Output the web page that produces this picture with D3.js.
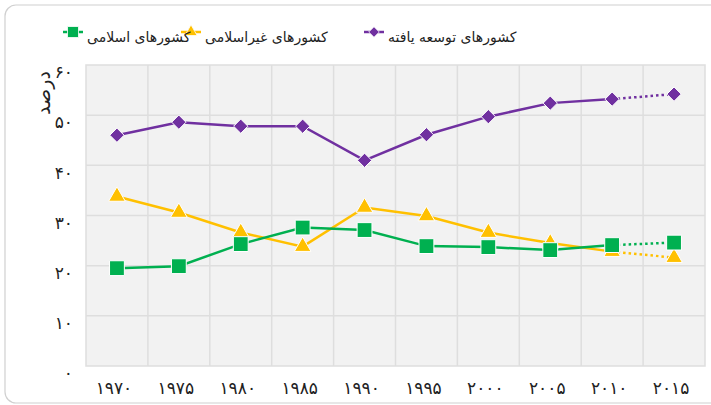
<!DOCTYPE html>
<html>
<head>
<meta charset="utf-8">
<script src="https://cdn.jsdelivr.net/npm/d3@7"></script>
<style>
  body { margin: 0; background: #fff; }
  text { font-family: "DejaVu Sans", sans-serif; }
</style>
</head>
<body>
<script>
// Data
var years = ['1970', '1975', '1980', '1985', '1990', '1995', '2000', '2005', '2010', '2015'];
var developed = [46.0, 48.6, 47.8, 47.8, 41.0, 46.1, 49.7, 52.4, 53.2, 54.2];
var nonIslamic = [33.8, 30.6, 26.6, 23.8, 31.6, 29.9, 26.6, 24.5, 22.8, 21.6];
var islamic = [19.5, 19.9, 24.3, 27.6, 27.1, 23.9, 23.7, 23.1, 24.1, 24.6];
var yTicks = [0, 10, 20, 30, 40, 50, 60];

var series = [
	{ name: 'کشورهای توسعه یافته', values: developed, color: '#7030a0', symbol: d3.symbolDiamond2, size: 130 },
	{ name: 'کشورهای غیراسلامی', values: nonIslamic, color: '#ffc000', symbol: d3.symbolTriangle, size: 120 },
	{ name: 'کشورهای اسلامی', values: islamic, color: '#00b050', symbol: d3.symbolSquare, size: 220 }
];

// Persian digits
function fa(s) {
	return String(s).replace(/[0-9]/g, function(c) { return '۰۱۲۳۴۵۶۷۸۹'[+c]; });
}

var width = 711, height = 405;
var plot = { left: 86, right: 705, top: 65, bottom: 366 };

var svg = d3.select('body').append('svg')
	.attr('width', width)
	.attr('height', height);

// outer rounded frame
svg.append('rect')
	.attr('x', 5).attr('y', 5)
	.attr('width', 730).attr('height', 398)
	.attr('rx', 11)
	.attr('fill', 'none')
	.attr('stroke', '#d0d0d0')
	.attr('stroke-width', 1.2);

// Scales
var xScale = d3.scaleBand().domain(years).range([plot.left, plot.right]);
var yScale = d3.scaleLinear().domain([0, 60]).range([plot.bottom, plot.top]);
var xc = function(i) { return xScale(years[i]) + xScale.bandwidth() / 2; };

// plot background and grid
svg.append('rect')
	.attr('x', plot.left).attr('y', plot.top)
	.attr('width', plot.right - plot.left)
	.attr('height', plot.bottom - plot.top)
	.attr('fill', '#f2f2f2')
	.attr('stroke', '#dedede')
	.attr('stroke-width', 1.5);

svg.append('g').selectAll('line')
	.data(years.slice(1))
	.enter().append('line')
		.attr('x1', function(d) { return xScale(d); })
		.attr('x2', function(d) { return xScale(d); })
		.attr('y1', plot.top).attr('y2', plot.bottom)
		.attr('stroke', '#dedede').attr('stroke-width', 1.5);

svg.append('g').selectAll('line')
	.data(yTicks.slice(1, -1))
	.enter().append('line')
		.attr('x1', plot.left).attr('x2', plot.right)
		.attr('y1', function(d) { return yScale(d); })
		.attr('y2', function(d) { return yScale(d); })
		.attr('stroke', '#dedede').attr('stroke-width', 1.5);

// Axes
var yAxis = d3.axisLeft(yScale).tickValues(yTicks).tickSize(0).tickPadding(0).tickFormat(fa);
var yg = svg.append('g')
	.attr('transform', 'translate(73,0)')
	.call(yAxis);
yg.select('.domain').remove();
yg.selectAll('text')
	.attr('dy', '0.75em')
	.attr('font-size', 17)
	.attr('letter-spacing', 2)
	.attr('fill', '#222')
	.style('font-family', '"DejaVu Sans", sans-serif');

var xAxis = d3.axisBottom(xScale).tickSize(0).tickPadding(0).tickFormat(fa);
var xg = svg.append('g')
	.attr('transform', 'translate(-3,390)')
	.call(xAxis);
xg.select('.domain').remove();
xg.selectAll('text')
	.attr('dy', '0.25em')
	.attr('font-size', 17)
	.attr('letter-spacing', 3)
	.attr('fill', '#222')
	.style('font-family', '"DejaVu Sans", sans-serif');

// y title
svg.append('text')
	.attr('transform', 'translate(50,93) rotate(-90)')
	.attr('text-anchor', 'middle')
	.attr('font-size', 19)
	.attr('fill', '#222')
	.text('درصد');

// Lines
var line = d3.line()
	.x(function(d) { return d.x; })
	.y(function(d) { return d.y; });

series.forEach(function(s) {
	var pts = s.values.map(function(v, i) { return { x: xc(i), y: yScale(v) }; });
	svg.append('path')
		.datum(pts.slice(0, 9))
		.attr('d', line)
		.attr('fill', 'none')
		.attr('stroke', s.color)
		.attr('stroke-width', 2.5);
	svg.append('path')
		.datum(pts.slice(8))
		.attr('d', line)
		.attr('fill', 'none')
		.attr('stroke', s.color)
		.attr('stroke-width', 2.5)
		.attr('stroke-dasharray', '2.5,3');
});

series.forEach(function(s) {
	svg.append('g').selectAll('path')
		.data(s.values)
		.enter().append('path')
			.attr('transform', function(d, i) { return 'translate(' + xc(i) + ',' + yScale(d) + ')'; })
			.attr('d', d3.symbol().type(s.symbol).size(s.size))
			.attr('fill', s.color)
			.attr('stroke', '#fff')
			.attr('stroke-width', 1);
});

// Legend
var legendX = { 'کشورهای اسلامی': 73, 'کشورهای غیراسلامی': 191, 'کشورهای توسعه یافته': 374 };
var legend = svg.selectAll('.legend')
	.data(series)
	.enter().append('g')
		.attr('class', 'legend')
		.attr('transform', function(d) { return 'translate(' + legendX[d.name] + ',32)'; });
legend.append('line')
	.attr('x1', -10).attr('x2', 10)
	.attr('stroke', function(d) { return d.color; })
	.attr('stroke-width', 2.5);
legend.append('path')
	.attr('d', function(d) { return d3.symbol().type(d.symbol).size(d.size * 0.55)(); })
	.attr('fill', function(d) { return d.color; })
	.attr('stroke', '#fff')
	.attr('stroke-width', 0.8);
legend.append('text')
	.attr('x', 14)
	.attr('y', 10)
	.attr('font-size', 14)
	.attr('fill', '#222')
	.text(function(d) { return d.name; });
</script>
</body>
</html>
